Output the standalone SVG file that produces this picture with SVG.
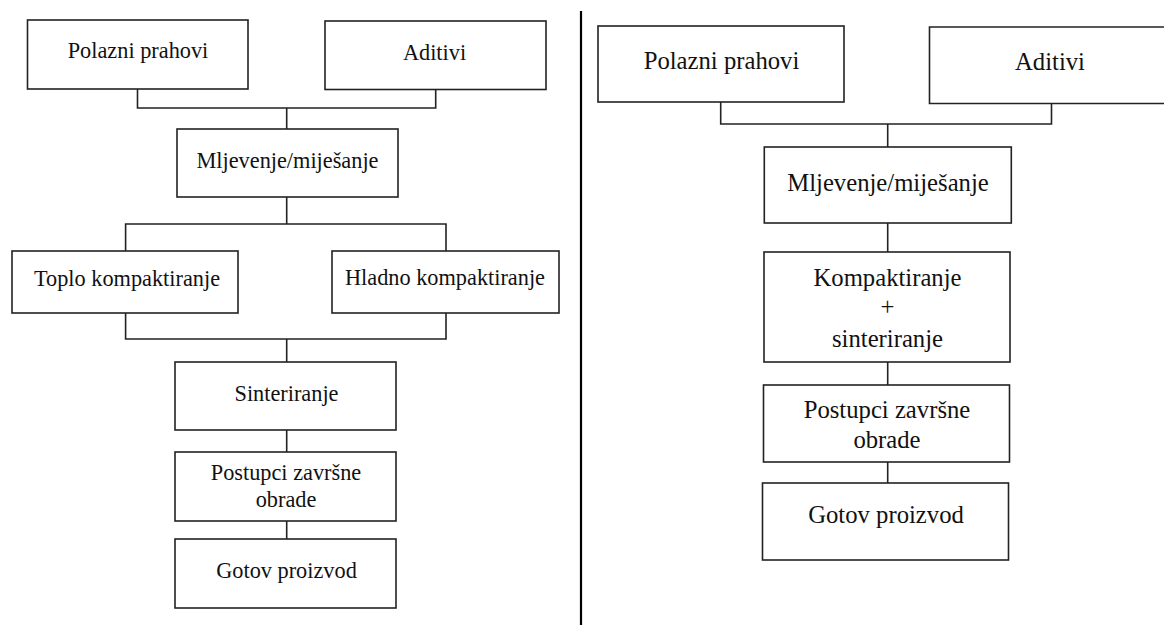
<svg xmlns="http://www.w3.org/2000/svg" width="1164" height="625" viewBox="0 0 1164 625">
<style>
.box{fill:#fff;stroke:#222;stroke-width:1.6}
.ln{fill:none;stroke:#222;stroke-width:1.6}
.t{font-family:"Liberation Serif","Times New Roman",serif;fill:#111;text-anchor:middle}
.s{font-size:22.3px}
.b{font-size:24.7px}
</style>
<rect width="1164" height="625" fill="#fff"/>
<g id="connectors">
<path class="ln" d="M137.5,89V108H435.7V89M286.7,108V129"/>
<path class="ln" d="M286.7,197V224M125.6,251V224H446V251"/>
<path class="ln" d="M125.6,313V339H446V313M286.7,339V362"/>
<path class="ln" d="M286.7,430V452M286.7,521V539"/>
<path class="ln" d="M720.7,102V124H1051.5V104M887.7,124V147"/>
<path class="ln" d="M887.7,223V252M887.7,362V385M887.7,462V483"/>
<line x1="581" y1="11" x2="581" y2="625" stroke="#000" stroke-width="2.2"/>
</g>
<g id="l-polazni"><rect class="box" x="27.5" y="20" width="220.5" height="69"/><text class="t s" x="138" y="58.3">Polazni prahovi</text></g>
<g id="l-aditivi"><rect class="box" x="325" y="21" width="221" height="68.5"/><text class="t s" x="434.5" y="60">Aditivi</text></g>
<g id="l-mljevenje"><rect class="box" x="177" y="129" width="221" height="68"/><text class="t s" x="287.5" y="167.5">Mljevenje/miješanje</text></g>
<g id="l-toplo"><rect class="box" x="12" y="251" width="226" height="62"/><text class="t s" x="127" y="285.5">Toplo kompaktiranje</text></g>
<g id="l-hladno"><rect class="box" x="332" y="251" width="227" height="62"/><text class="t s" x="445" y="285">Hladno kompaktiranje</text></g>
<g id="l-sinteriranje"><rect class="box" x="175" y="362" width="221" height="68"/><text class="t s" x="286.5" y="400.5">Sinteriranje</text></g>
<g id="l-postupci"><rect class="box" x="175" y="452" width="221" height="69"/><text class="t s" x="286" y="480">Postupci završne</text><text class="t s" x="286" y="507.3">obrade</text></g>
<g id="l-gotov"><rect class="box" x="175" y="539" width="221" height="69"/><text class="t s" x="286.5" y="578.3">Gotov proizvod</text></g>
<g id="r-polazni"><rect class="box" x="598" y="26" width="246" height="76"/><text class="t b" x="721.5" y="69">Polazni prahovi</text></g>
<g id="r-aditivi"><path class="ln" d="M1166,27H929.5V103.5H1166" style="fill:#fff"/><text class="t b" x="1050" y="70">Aditivi</text></g>
<g id="r-mljevenje"><rect class="box" x="764.3" y="147" width="247" height="76"/><text class="t b" x="888" y="190.5">Mljevenje/miješanje</text></g>
<g id="r-kompaktiranje"><rect class="box" x="764" y="252" width="246" height="110"/><text class="t b" x="887.5" y="285.7">Kompaktiranje</text><text class="t b" x="887.5" y="315">+</text><text class="t b" x="887.5" y="346.7">sinteriranje</text></g>
<g id="r-postupci"><rect class="box" x="763.5" y="385" width="246" height="77"/><text class="t b" x="887" y="418.3">Postupci završne</text><text class="t b" x="887" y="447.7">obrade</text></g>
<g id="r-gotov"><rect class="box" x="762.5" y="483" width="246" height="77"/><text class="t b" x="886" y="523.3">Gotov proizvod</text></g>
</svg>
